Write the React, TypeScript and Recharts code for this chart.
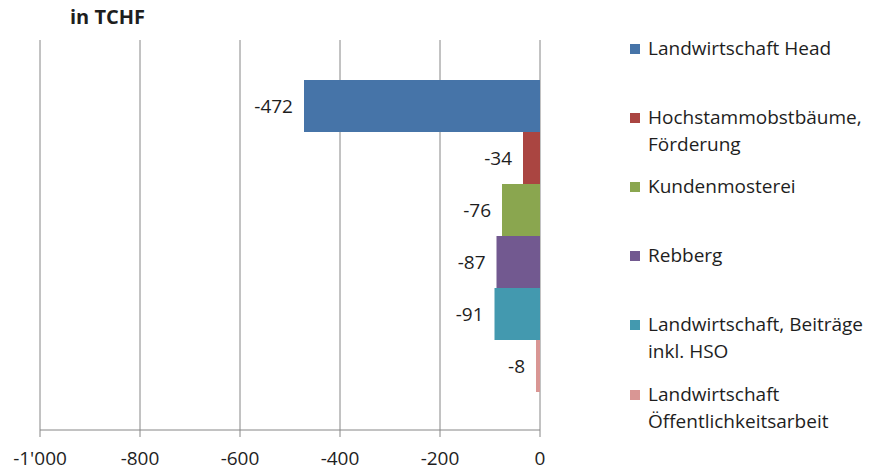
import React from "react";
import { BarChart, Bar, XAxis, YAxis, CartesianGrid, LabelList } from "recharts";

const seriesNames = [
  "Landwirtschaft Head",
  "Hochstammobstbäume,\nFörderung",
  "Kundenmosterei",
  "Rebberg",
  "Landwirtschaft, Beiträge\ninkl. HSO",
  "Landwirtschaft\nÖffentlichkeitsarbeit",
];
const seriesValues = [-472, -34, -76, -87, -91, -8];
const seriesColors = ["#4674A8", "#AA4541", "#8AA64F", "#725990", "#4399AF", "#D99694"];
const xTicks = [-1000, -800, -600, -400, -200, 0];
const unitLabel = "in TCHF";

const keys = seriesNames.map((_, i) => `s${i}`);
const row: Record<string, number | string> = { name: "" };
keys.forEach((k, i) => {
  row[k] = seriesValues[i];
});
const data = [row];

// swiss thousands separator: -1'000
const fmt = (v: number) => {
  const s = Math.abs(v).toString().replace(/\B(?=(\d{3})+(?!\d))/g, "'");
  return v < 0 ? "-" + s : s;
};

const FONT = "'Open Sans', sans-serif";

const ValueLabel = (props: any) => {
  const { x, y, width, height, value } = props;
  const left = Math.min(x, x + width);
  return (
    <text
      x={left - 11}
      y={y + height / 2}
      textAnchor="end"
      dominantBaseline="central"
      fontSize={19}
      fill="#1e1e1e"
    >
      {fmt(value)}
    </text>
  );
};

export default function App() {
  return (
    <div
      style={{
        position: "absolute",
        left: 0,
        top: 0,
        width: 874,
        height: 472,
        background: "#fff",
        fontFamily: FONT,
      }}
    >
      <div
        style={{
          position: "absolute",
          left: 70,
          top: 3,
          fontSize: 20,
          fontWeight: 700,
          color: "#1e1e1e",
        }}
      >
        {unitLabel}
      </div>

      <BarChart
        width={874}
        height={472}
        data={data}
        layout="vertical"
        margin={{ top: 40, right: 334, bottom: 0, left: 40 }}
        barCategoryGap={40}
        barGap={0}
      >
        <CartesianGrid horizontal={false} stroke="#868686" strokeWidth={1} />
        <XAxis
          type="number"
          domain={[-1000, 0]}
          ticks={xTicks}
          tickFormatter={fmt}
          height={42}
          tickSize={7}
          tickMargin={15}
          stroke="#868686"
          tick={{ fill: "#1e1e1e", fontSize: 19 }}
          interval={0}
        />
        <YAxis type="category" dataKey="name" hide />
        {keys.map((k, i) => (
          <Bar key={k} dataKey={k} fill={seriesColors[i]} isAnimationActive={false}>
            <LabelList dataKey={k} content={ValueLabel} />
          </Bar>
        ))}
      </BarChart>

      {seriesNames.map((name, i) => (
        <div
          key={name}
          style={{
            position: "absolute",
            left: 630,
            top: 48 + i * 69.2 - 13.5,
            display: "flex",
            alignItems: "flex-start",
            fontSize: 19,
            lineHeight: "27px",
            color: "#1e1e1e",
          }}
        >
          <span
            style={{
              display: "inline-block",
              width: 10,
              height: 10,
              marginTop: 9,
              marginRight: 8,
              background: seriesColors[i],
            }}
          />
          <span style={{ whiteSpace: "pre-line" }}>{name}</span>
        </div>
      ))}
    </div>
  );
}
